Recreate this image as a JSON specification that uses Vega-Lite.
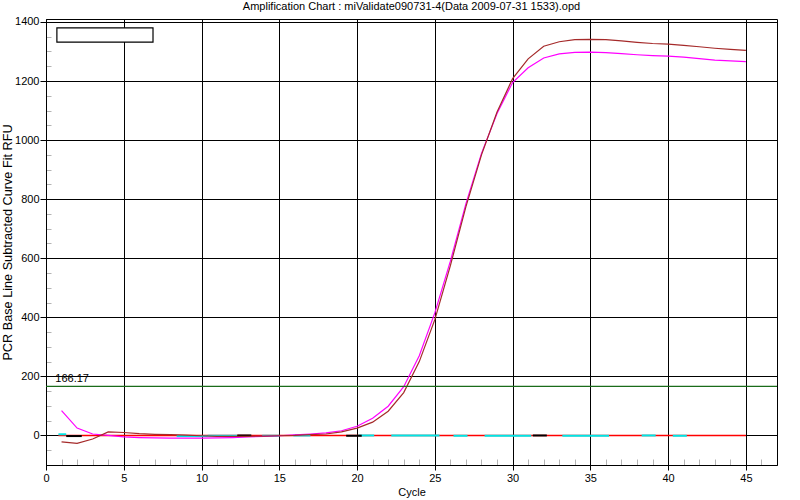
{
  "$schema": "https://vega.github.io/schema/vega-lite/v6.json",
  "width": 731,
  "height": 446,
  "autosize": "none",
  "padding": {"left": 46, "top": 19, "right": 23, "bottom": 35},
  "background": "white",
  "title": {"text": "Amplification Chart : miValidate090731-4(Data 2009-07-31 1533).opd", "font": "Liberation Sans", "fontSize": 11, "fontWeight": "normal", "color": "black", "anchor": "middle", "offset": 4},
  "config": {
    "view": {"stroke": "black", "strokeWidth": 1},
    "axis": {"labelFont": "Liberation Sans", "titleFont": "Liberation Sans", "labelColor": "black", "titleColor": "black", "labelFontSize": 11, "titleFontWeight": "normal"}
  },
  "datasets": {
    "curves": [
      {"series": "magenta", "cycle": 1, "rfu": 84}, {"series": "magenta", "cycle": 2, "rfu": 25}, {"series": "magenta", "cycle": 3, "rfu": 5}, {"series": "magenta", "cycle": 4, "rfu": 0}, {"series": "magenta", "cycle": 5, "rfu": -5},
      {"series": "magenta", "cycle": 6, "rfu": -7}, {"series": "magenta", "cycle": 7, "rfu": -8}, {"series": "magenta", "cycle": 8, "rfu": -9}, {"series": "magenta", "cycle": 9, "rfu": -9}, {"series": "magenta", "cycle": 10, "rfu": -9},
      {"series": "magenta", "cycle": 11, "rfu": -8}, {"series": "magenta", "cycle": 12, "rfu": -7}, {"series": "magenta", "cycle": 13, "rfu": -5}, {"series": "magenta", "cycle": 14, "rfu": -3}, {"series": "magenta", "cycle": 15, "rfu": -1},
      {"series": "magenta", "cycle": 16, "rfu": 2}, {"series": "magenta", "cycle": 17, "rfu": 5}, {"series": "magenta", "cycle": 18, "rfu": 9}, {"series": "magenta", "cycle": 19, "rfu": 16}, {"series": "magenta", "cycle": 20, "rfu": 31},
      {"series": "magenta", "cycle": 21, "rfu": 58}, {"series": "magenta", "cycle": 22, "rfu": 99}, {"series": "magenta", "cycle": 23, "rfu": 165}, {"series": "magenta", "cycle": 24, "rfu": 270}, {"series": "magenta", "cycle": 25, "rfu": 415},
      {"series": "magenta", "cycle": 26, "rfu": 590}, {"series": "magenta", "cycle": 27, "rfu": 785}, {"series": "magenta", "cycle": 28, "rfu": 955}, {"series": "magenta", "cycle": 29, "rfu": 1090}, {"series": "magenta", "cycle": 30, "rfu": 1195},
      {"series": "magenta", "cycle": 31, "rfu": 1245}, {"series": "magenta", "cycle": 32, "rfu": 1278}, {"series": "magenta", "cycle": 33, "rfu": 1292}, {"series": "magenta", "cycle": 34, "rfu": 1297}, {"series": "magenta", "cycle": 35, "rfu": 1298},
      {"series": "magenta", "cycle": 36, "rfu": 1296}, {"series": "magenta", "cycle": 37, "rfu": 1293}, {"series": "magenta", "cycle": 38, "rfu": 1289}, {"series": "magenta", "cycle": 39, "rfu": 1286}, {"series": "magenta", "cycle": 40, "rfu": 1284},
      {"series": "magenta", "cycle": 41, "rfu": 1281}, {"series": "magenta", "cycle": 42, "rfu": 1276}, {"series": "magenta", "cycle": 43, "rfu": 1271}, {"series": "magenta", "cycle": 44, "rfu": 1268}, {"series": "magenta", "cycle": 45, "rfu": 1266},
      {"series": "brown", "cycle": 1, "rfu": -22}, {"series": "brown", "cycle": 2, "rfu": -27}, {"series": "brown", "cycle": 3, "rfu": -12}, {"series": "brown", "cycle": 4, "rfu": 12}, {"series": "brown", "cycle": 5, "rfu": 10},
      {"series": "brown", "cycle": 6, "rfu": 6}, {"series": "brown", "cycle": 7, "rfu": 4}, {"series": "brown", "cycle": 8, "rfu": 3}, {"series": "brown", "cycle": 9, "rfu": 1}, {"series": "brown", "cycle": 10, "rfu": -1},
      {"series": "brown", "cycle": 11, "rfu": -3}, {"series": "brown", "cycle": 12, "rfu": -3}, {"series": "brown", "cycle": 13, "rfu": -3}, {"series": "brown", "cycle": 14, "rfu": -2}, {"series": "brown", "cycle": 15, "rfu": -1},
      {"series": "brown", "cycle": 16, "rfu": 0}, {"series": "brown", "cycle": 17, "rfu": 3}, {"series": "brown", "cycle": 18, "rfu": 5}, {"series": "brown", "cycle": 19, "rfu": 12}, {"series": "brown", "cycle": 20, "rfu": 25},
      {"series": "brown", "cycle": 21, "rfu": 45}, {"series": "brown", "cycle": 22, "rfu": 82}, {"series": "brown", "cycle": 23, "rfu": 145}, {"series": "brown", "cycle": 24, "rfu": 250}, {"series": "brown", "cycle": 25, "rfu": 392},
      {"series": "brown", "cycle": 26, "rfu": 575}, {"series": "brown", "cycle": 27, "rfu": 775}, {"series": "brown", "cycle": 28, "rfu": 950}, {"series": "brown", "cycle": 29, "rfu": 1095}, {"series": "brown", "cycle": 30, "rfu": 1208},
      {"series": "brown", "cycle": 31, "rfu": 1275}, {"series": "brown", "cycle": 32, "rfu": 1318}, {"series": "brown", "cycle": 33, "rfu": 1333}, {"series": "brown", "cycle": 34, "rfu": 1340}, {"series": "brown", "cycle": 35, "rfu": 1341},
      {"series": "brown", "cycle": 36, "rfu": 1340}, {"series": "brown", "cycle": 37, "rfu": 1336}, {"series": "brown", "cycle": 38, "rfu": 1331}, {"series": "brown", "cycle": 39, "rfu": 1327}, {"series": "brown", "cycle": 40, "rfu": 1325},
      {"series": "brown", "cycle": 41, "rfu": 1321}, {"series": "brown", "cycle": 42, "rfu": 1316}, {"series": "brown", "cycle": 43, "rfu": 1311}, {"series": "brown", "cycle": 44, "rfu": 1307}, {"series": "brown", "cycle": 45, "rfu": 1304}
    ],
    "flat": [
      {"cycle": 0.8, "rfu": 0}, {"cycle": 45, "rfu": 0}
    ],
    "segs": [
      {"series": "cyan", "seg": "c1", "cycle": 0.8, "rfu": 4}, {"series": "cyan", "seg": "c1", "cycle": 1.3, "rfu": 4},
      {"series": "cyan", "seg": "c2", "cycle": 8.4, "rfu": -2}, {"series": "cyan", "seg": "c2", "cycle": 10.4, "rfu": -2},
      {"series": "cyan", "seg": "c3", "cycle": 10.4, "rfu": -1}, {"series": "cyan", "seg": "c3", "cycle": 12.3, "rfu": -1},
      {"series": "cyan", "seg": "c4", "cycle": 13.9, "rfu": -1}, {"series": "cyan", "seg": "c4", "cycle": 15.0, "rfu": -1},
      {"series": "cyan", "seg": "c5", "cycle": 15.9, "rfu": 0}, {"series": "cyan", "seg": "c5", "cycle": 17.0, "rfu": 0},
      {"series": "cyan", "seg": "c6", "cycle": 20.1, "rfu": 0}, {"series": "cyan", "seg": "c6", "cycle": 21.1, "rfu": 0},
      {"series": "cyan", "seg": "c7", "cycle": 22.2, "rfu": 0}, {"series": "cyan", "seg": "c7", "cycle": 25.3, "rfu": 0},
      {"series": "cyan", "seg": "c8", "cycle": 26.2, "rfu": -1}, {"series": "cyan", "seg": "c8", "cycle": 27.1, "rfu": -1},
      {"series": "cyan", "seg": "c9", "cycle": 28.2, "rfu": -1}, {"series": "cyan", "seg": "c9", "cycle": 31.2, "rfu": -1},
      {"series": "cyan", "seg": "c10", "cycle": 33.2, "rfu": -1}, {"series": "cyan", "seg": "c10", "cycle": 36.2, "rfu": -1},
      {"series": "cyan", "seg": "c11", "cycle": 38.3, "rfu": 0}, {"series": "cyan", "seg": "c11", "cycle": 39.2, "rfu": 0},
      {"series": "cyan", "seg": "c12", "cycle": 40.3, "rfu": -1}, {"series": "cyan", "seg": "c12", "cycle": 41.2, "rfu": -1},
      {"series": "black", "seg": "b1", "cycle": 1.3, "rfu": -2}, {"series": "black", "seg": "b1", "cycle": 2.3, "rfu": -2},
      {"series": "black", "seg": "b2", "cycle": 12.3, "rfu": 0}, {"series": "black", "seg": "b2", "cycle": 13.2, "rfu": 0},
      {"series": "black", "seg": "b3", "cycle": 19.3, "rfu": -1}, {"series": "black", "seg": "b3", "cycle": 20.3, "rfu": -1},
      {"series": "black", "seg": "b4", "cycle": 31.3, "rfu": 0}, {"series": "black", "seg": "b4", "cycle": 32.2, "rfu": 0}
    ],
    "threshold": [{"cycle": 0.6, "rfu": 166.17, "label": "166.17"}],
    "legendbox": [{"x1": 0.7, "x2": 6.88, "y1": 1332, "y2": 1380}]
  },
  "layer": [
    {
      "data": {"name": "flat"},
      "mark": {"type": "line", "color": "#ff0000", "strokeWidth": 1.5},
      "encoding": {
        "x": {"field": "cycle", "type": "quantitative", "scale": {"domain": [0, 47], "nice": false, "zero": false},
          "axis": {"orient": "bottom", "tickCount": 200, "values": [0, 1, 2, 3, 4, 5, 6, 7, 8, 9, 10, 11, 12, 13, 14, 15, 16, 17, 18, 19, 20, 21, 22, 23, 24, 25, 26, 27, 28, 29, 30, 31, 32, 33, 34, 35, 36, 37, 38, 39, 40, 41, 42, 43, 44, 45, 46],
            "format": "d", "labelExpr": "datum.value % 5 === 0 ? datum.label : ''", "labelOverlap": false,
            "grid": true, "gridColor": "black", "gridWidth": 1,
            "gridOpacity": {"condition": {"test": "datum.value % 5 !== 0", "value": 0}, "value": 1},
            "domainColor": "black",
            "tickColor": {"condition": {"test": "datum.value % 5 !== 0", "value": "#b4b4b4"}, "value": "black"},
            "tickSize": {"condition": {"test": "datum.value % 5 !== 0", "value": -6}, "value": 5},
            "labelPadding": 2, "labelFlush": false, "title": "Cycle", "titleFontSize": 11, "titlePadding": 3}},
        "y": {"field": "rfu", "type": "quantitative", "scale": {"domain": [-100, 1410], "nice": false, "zero": false},
          "axis": {"orient": "left", "tickCount": 200, "values": [-50, 0, 50, 100, 150, 200, 250, 300, 350, 400, 450, 500, 550, 600, 650, 700, 750, 800, 850, 900, 950, 1000, 1050, 1100, 1150, 1200, 1250, 1300, 1350, 1400],
            "format": "d", "labelExpr": "datum.value % 200 === 0 ? datum.label : ''", "labelOverlap": false,
            "grid": true, "gridColor": "black", "gridWidth": 1,
            "gridOpacity": {"condition": {"test": "datum.value % 200 !== 0", "value": 0}, "value": 1},
            "domainColor": "black",
            "tickColor": {"condition": {"test": "datum.value % 200 !== 0", "value": "#b4b4b4"}, "value": "black"},
            "tickSize": {"condition": {"test": "datum.value % 200 !== 0", "value": -5}, "value": 6},
            "labelPadding": 1, "labelFlush": false,
            "title": "PCR Base Line Subtracted Curve Fit RFU", "titleFontSize": 12.7, "titleAngle": -90, "titleX": -39, "titleY": 223, "titleAlign": "center", "titleBaseline": "middle"}}
      }
    },
    {
      "data": {"name": "segs"},
      "mark": {"type": "line", "strokeWidth": 2},
      "encoding": {
        "x": {"field": "cycle", "type": "quantitative"},
        "y": {"field": "rfu", "type": "quantitative"},
        "detail": {"field": "seg"},
        "color": {"field": "series", "type": "nominal", "scale": {"domain": ["cyan", "black", "magenta", "brown"], "range": ["#00e5e5", "#000000", "#ff00ff", "#a52a2a"]}, "legend": null}
      }
    },
    {
      "data": {"name": "curves"},
      "mark": {"type": "line", "strokeWidth": 1.2},
      "encoding": {
        "x": {"field": "cycle", "type": "quantitative"},
        "y": {"field": "rfu", "type": "quantitative"},
        "color": {"field": "series", "type": "nominal", "sort": ["magenta", "brown"], "legend": null},
        "order": {"field": "cycle", "type": "quantitative"}
      }
    },
    {
      "data": {"name": "threshold"},
      "mark": {"type": "rule", "color": "#1a6b1a", "strokeWidth": 1.2},
      "encoding": {
        "y": {"field": "rfu", "type": "quantitative"}
      }
    },
    {
      "data": {"name": "threshold"},
      "mark": {"type": "text", "align": "left", "baseline": "alphabetic", "dy": -4, "font": "Liberation Sans", "fontSize": 11, "color": "black"},
      "encoding": {
        "x": {"field": "cycle", "type": "quantitative"},
        "y": {"field": "rfu", "type": "quantitative"},
        "text": {"field": "label"}
      }
    },
    {
      "data": {"name": "legendbox"},
      "mark": {"type": "rect", "fill": "white", "stroke": "black", "strokeWidth": 1.2},
      "encoding": {
        "x": {"field": "x1", "type": "quantitative"},
        "x2": {"field": "x2"},
        "y": {"field": "y1", "type": "quantitative"},
        "y2": {"field": "y2"}
      }
    }
  ]
}
